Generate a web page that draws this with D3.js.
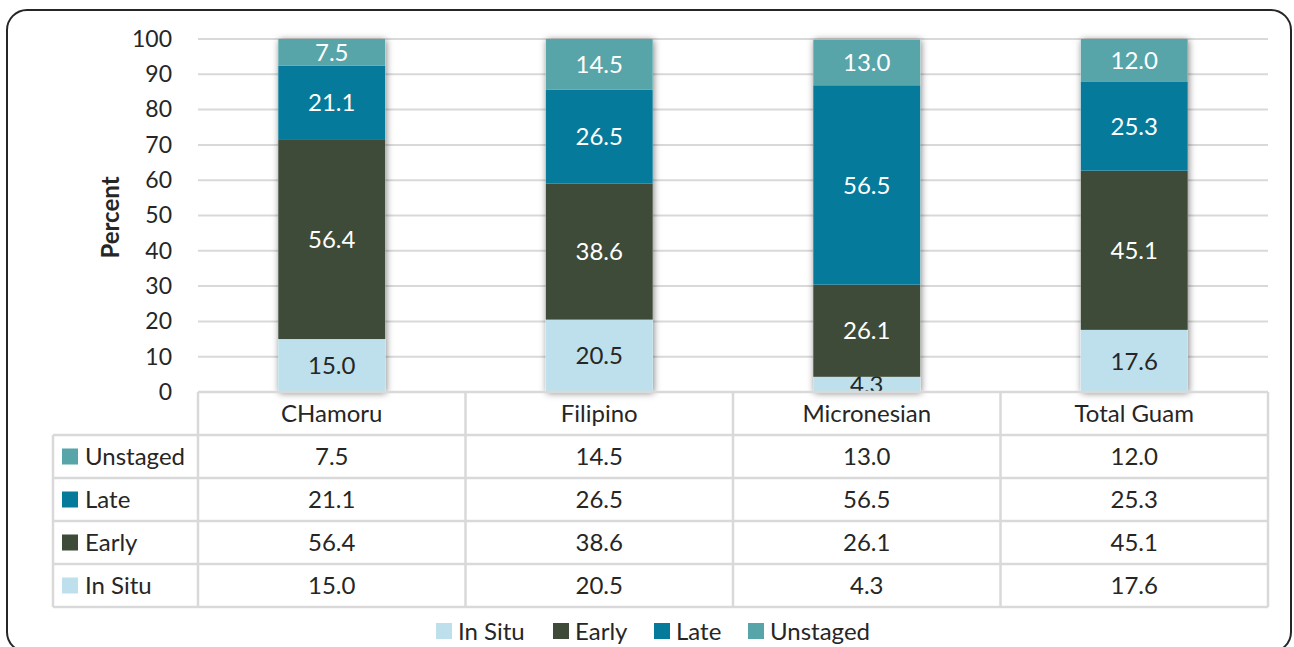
<!DOCTYPE html>
<html>
<head>
<meta charset="utf-8">
<script src="https://cdn.jsdelivr.net/npm/d3@7"></script>
<style>
  body { margin: 0; background: #fff; }
  text { font-family: Lato, "Open Sans", sans-serif; }
</style>
</head>
<body>
<div id="chart"></div>
<script>
// chart data
const categories = ["CHamoru", "Filipino", "Micronesian", "Total Guam"]
const stages = ["In Situ", "Early", "Late", "Unstaged"]
const inSitu = [15.0, 20.5, 4.3, 17.6]
const early = [56.4, 38.6, 26.1, 45.1]
const late = [21.1, 26.5, 56.5, 25.3]
const unstaged = [7.5, 14.5, 13.0, 12.0]
const yTicks = [0, 10, 20, 30, 40, 50, 60, 70, 80, 90, 100]

const colour = {
    "In Situ": "#bde0ec",
    "Early": "#3d4b38",
    "Late": "#067a9b",
    "Unstaged": "#57a5a9"
}
const labelColour = { "In Situ": "#262626", "Early": "#fff", "Late": "#fff", "Unstaged": "#fff" }

const width = 1294, height = 647
const plot = { left: 198, right: 1268, top: 39, bottom: 392 }
const rowH = 43
const gridCol = "#d9d9d9"
const textCol = "#262626"
const fs = 24

const rows = categories.map((c, i) => ({
    cat: c, "In Situ": inSitu[i], "Early": early[i], "Late": late[i], "Unstaged": unstaged[i]
}))

const svg = d3.select('#chart').append('svg')
    .attr('width', width)
    .attr('height', height)

const defs = svg.append('defs')
const f = defs.append('filter').attr('id', 'shadow')
    .attr('x', '-20%').attr('y', '-5%').attr('width', '140%').attr('height', '110%')
f.append('feDropShadow')
    .attr('dx', 1).attr('dy', 1).attr('stdDeviation', 3.5)
    .attr('flood-color', '#000').attr('flood-opacity', 0.5)

// outer frame
svg.append('rect')
    .attr('x', 7).attr('y', 10)
    .attr('width', 1284).attr('height', 642)
    .attr('rx', 20).attr('ry', 20)
    .attr('fill', 'none').attr('stroke', '#262626').attr('stroke-width', 2)

const x = d3.scaleBand().domain(categories).range([plot.left, plot.right]).paddingInner(0).paddingOuter(0)
const y = d3.scaleLinear().domain([0, 100]).range([plot.bottom, plot.top])

// gridlines
svg.append('g').selectAll('line')
    .data(yTicks.filter(d => d > 0))
    .enter().append('line')
    .attr('x1', plot.left).attr('x2', plot.right)
    .attr('y1', d => y(d)).attr('y2', d => y(d))
    .attr('stroke', gridCol).attr('stroke-width', 2)

// y axis labels
const yAxis = svg.append('g')
    .attr('transform', `translate(${plot.left - 26},0)`)
    .call(d3.axisLeft(y).tickValues(yTicks).tickSize(0).tickPadding(0))
yAxis.select('.domain').remove()
yAxis.selectAll('text')
    .attr('font-size', 23).attr('fill', textCol)
    .style('font-family', 'Lato, sans-serif')

svg.append('text')
    .attr('transform', `translate(119,${(plot.top + plot.bottom) / 2 + 2}) rotate(-90)`)
    .attr('text-anchor', 'middle')
    .attr('font-size', 24).attr('font-weight', 'bold').attr('fill', textCol)
    .text('Percent')

// stacked bars
const stack = d3.stack().keys(stages)(rows)
const barW = x.bandwidth() * 0.4

const bars = svg.append('g')
bars.selectAll('g.bar')
    .data(categories)
    .enter().append('rect')
    .attr('x', d => x(d) + (x.bandwidth() - barW) / 2)
    .attr('width', barW)
    .attr('y', plot.top)
    .attr('height', plot.bottom - plot.top)
    .attr('fill', '#fff')
    .attr('filter', 'url(#shadow)')

stack.forEach(layer => {
    const key = layer.key
    const g = bars.append('g')
    g.selectAll('rect')
        .data(layer)
        .enter().append('rect')
        .attr('x', d => x(d.data.cat) + (x.bandwidth() - barW) / 2)
        .attr('width', barW)
        .attr('y', d => y(Math.min(d[1], 100)))
        .attr('height', d => y(d[0]) - y(Math.min(d[1], 100)))
        .attr('fill', colour[key])
    g.selectAll('text')
        .data(layer)
        .enter().append('text')
        .attr('x', d => x(d.data.cat) + x.bandwidth() / 2)
        .attr('y', d => (y(d[0]) + y(Math.min(d[1], 100))) / 2)
        .attr('dy', '0.36em')
        .attr('text-anchor', 'middle')
        .attr('font-size', fs)
        .attr('fill', labelColour[key])
        .text(d => d.data[key].toFixed(1))
})

// data table
const table = svg.append('g')
const tableRows = stages.slice().reverse()
const tableLeft = 53
const top0 = plot.bottom
const tableBottom = top0 + rowH * (tableRows.length + 1)

// horizontal lines
table.append('line')
    .attr('x1', plot.left).attr('x2', plot.right)
    .attr('y1', top0).attr('y2', top0)
    .attr('stroke', gridCol).attr('stroke-width', 2.5)
d3.range(1, tableRows.length + 2).forEach(i => {
    table.append('line')
        .attr('x1', tableLeft).attr('x2', plot.right)
        .attr('y1', top0 + i * rowH).attr('y2', top0 + i * rowH)
        .attr('stroke', gridCol).attr('stroke-width', 2.5)
})
// vertical lines
const vx = categories.map(c => x(c)).concat([plot.right])
vx.forEach(v => {
    table.append('line')
        .attr('x1', v).attr('x2', v)
        .attr('y1', top0).attr('y2', tableBottom)
        .attr('stroke', gridCol).attr('stroke-width', 2.5)
})
table.append('line')
    .attr('x1', tableLeft).attr('x2', tableLeft)
    .attr('y1', top0 + rowH).attr('y2', tableBottom)
    .attr('stroke', gridCol).attr('stroke-width', 2.5)

// header
table.selectAll('text.head')
    .data(categories)
    .enter().append('text')
    .attr('class', 'head')
    .attr('x', d => x(d) + x.bandwidth() / 2)
    .attr('y', top0 + rowH / 2)
    .attr('dy', '0.36em')
    .attr('text-anchor', 'middle')
    .attr('font-size', fs).attr('fill', textCol)
    .text(d => d)

tableRows.forEach((s, i) => {
    const cy = top0 + (i + 1) * rowH + rowH / 2
    table.append('rect')
        .attr('x', 62).attr('y', cy - 8).attr('width', 16).attr('height', 16)
        .attr('fill', colour[s])
    table.append('text')
        .attr('x', 85).attr('y', cy).attr('dy', '0.36em')
        .attr('font-size', fs).attr('fill', textCol)
        .text(s)
    table.selectAll('text.v' + i)
        .data(rows)
        .enter().append('text')
        .attr('x', d => x(d.cat) + x.bandwidth() / 2)
        .attr('y', cy).attr('dy', '0.36em')
        .attr('text-anchor', 'middle')
        .attr('font-size', fs).attr('fill', textCol)
        .text(d => d[s].toFixed(1))
})

// legend
const legendX = [436, 553, 654, 748]
const legend = svg.append('g')
stages.forEach((s, i) => {
    legend.append('rect')
        .attr('x', legendX[i]).attr('y', 623).attr('width', 16).attr('height', 16)
        .attr('fill', colour[s])
    legend.append('text')
        .attr('x', legendX[i] + 22).attr('y', 631).attr('dy', '0.36em')
        .attr('font-size', fs).attr('fill', textCol)
        .text(s)
})
</script>
</body>
</html>
